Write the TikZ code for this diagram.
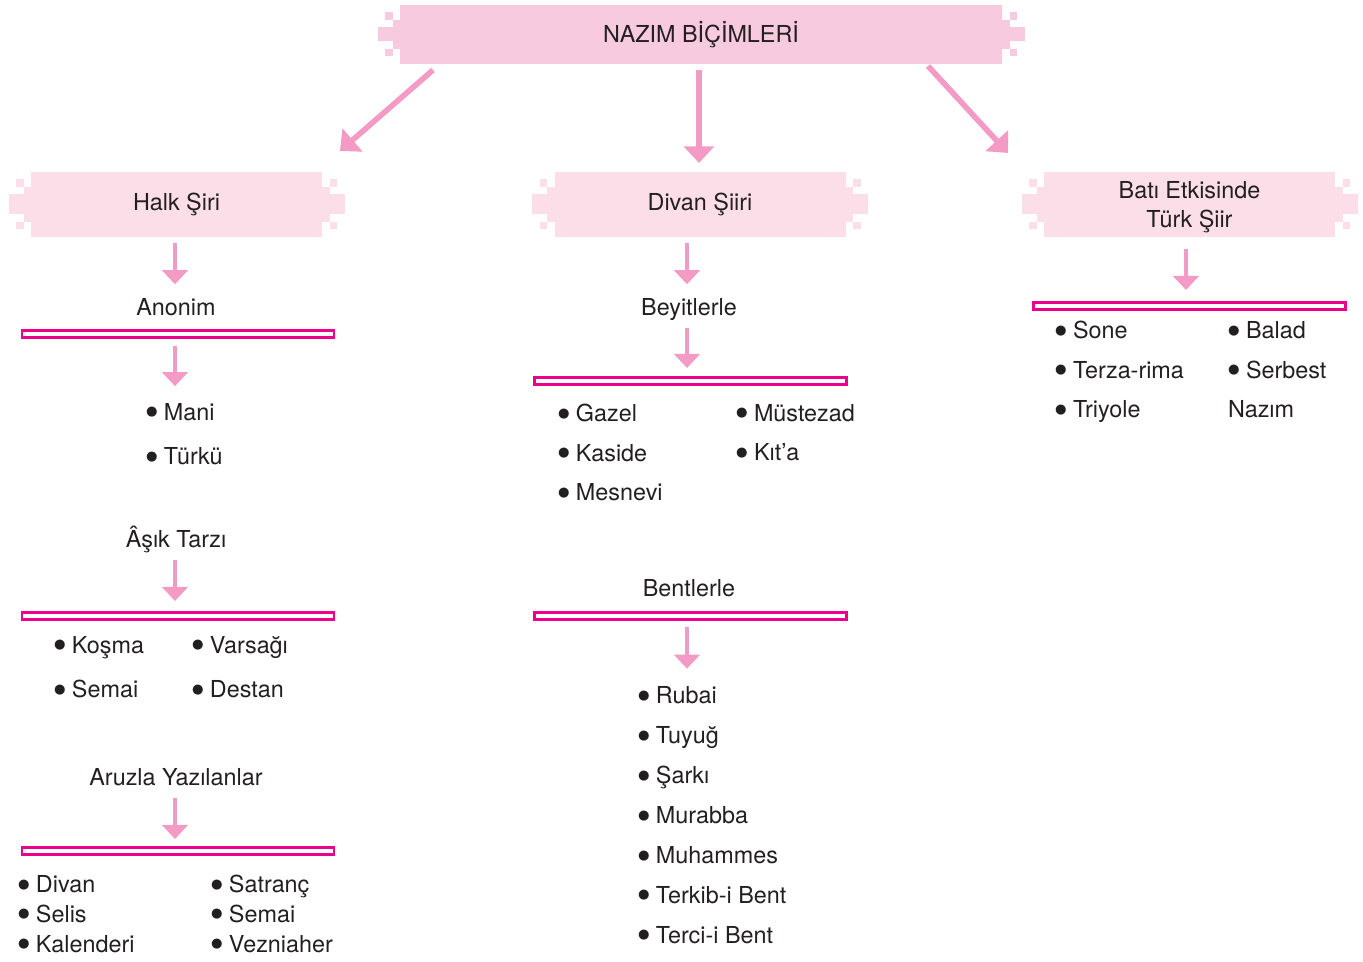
\documentclass[tikz,border=0pt]{standalone}
\usepackage{fontspec}
\setmainfont{TeX Gyre Heros}
\newfontfamily\dotfont{DejaVu Sans}
\usetikzlibrary{arrows.meta,calc}
\definecolor{toppink}{RGB}{248,202,223}
\definecolor{boxpink}{RGB}{252,222,233}
\definecolor{arrowpink}{RGB}{243,155,196}
\definecolor{barmagenta}{RGB}{236,0,140}
\definecolor{textdark}{RGB}{35,31,32}
\newlength\unitpx
\setlength\unitpx{0.02cm}
\newcommand\bul{\raisebox{2.4pt}{\dotfont\fontsize{7.5}{9}\selectfont ●}\ }
\tikzset{
  topbox/.style={fill=toppink, minimum width=602\unitpx, minimum height=59\unitpx, inner sep=0pt, outer sep=0pt},
  catbox/.style={fill=boxpink, minimum width=291\unitpx, minimum height=65\unitpx, inner sep=0pt, outer sep=0pt, align=center},
  heading/.style={anchor=base, inner sep=0pt, outer sep=0pt, text height=9.5pt, text depth=3pt},
  divider/.style={draw=barmagenta, fill=white, line width=1.7pt, minimum width=312\unitpx, minimum height=7\unitpx, inner sep=0pt, outer sep=0pt},
  items/.style={anchor=base west, align=left, inner sep=0pt, outer sep=0pt},
  bigarrow/.style={draw=arrowpink, line width=3.2pt, -{Triangle[length=9.5pt,width=17pt]}},
  smallarrow/.style={draw=arrowpink, line width=2.8pt, -{Triangle[length=8pt,width=14.5pt]}}
}
% stepped ends of a box: #1 node, #2 colour
\newcommand\ribbon[2]{%
  \fill[#2] ($(#1.north west)+(-7.5,15)$) rectangle ($(#1.south west)+(1,-15)$);
  \fill[#2] ($(#1.north west)+(-22.5,22.5)$) rectangle ($(#1.south west)+(-7,-22.5)$);
  \fill[#2] ($(#1.north west)+(-15,7.5)$) rectangle ($(#1.north west)+(-7.5,15)$);
  \fill[#2] ($(#1.south west)+(-15,-15)$) rectangle ($(#1.south west)+(-7.5,-7.5)$);
  \fill[#2] ($(#1.north east)+(7.5,15)$) rectangle ($(#1.south east)+(-1,-15)$);
  \fill[#2] ($(#1.north east)+(22.5,22.5)$) rectangle ($(#1.south east)+(7,-22.5)$);
  \fill[#2] ($(#1.north east)+(15,7.5)$) rectangle ($(#1.north east)+(7.5,15)$);
  \fill[#2] ($(#1.south east)+(15,-15)$) rectangle ($(#1.south east)+(7.5,-7.5)$);
}
\begin{document}
\begin{tikzpicture}[x=0.02cm, y=-0.02cm, font=\fontsize{13.3}{16}\selectfont, text=textdark]
\useasboundingbox (0,0) rectangle (1363,962);

\node[topbox] (top) at (701,34.5) {NAZIM BİÇİMLERİ};
\node[catbox] (halk) at (176.5,204.5) {Halk Şiri};
\node[catbox] (divan) at (700,204.5) {Divan Şiiri};
\node[catbox] (bati) at (1189.5,204.5) {\rule{0pt}{13pt}Batı Etkisinde\\[0.5pt]Türk Şiir};
\ribbon{top}{toppink}
\ribbon{halk}{boxpink}
\ribbon{divan}{boxpink}
\ribbon{bati}{boxpink}

\node[heading] (anonim) at (176,316) {Anonim};
\node[heading] (asik) at (176,548) {Âşık Tarzı};
\node[heading] (aruz) at (176,785) {Aruzla Yazılanlar};
\node[heading] (beyit) at (689,316) {Beyitlerle};
\node[heading] (bent) at (689,597) {Bentlerle};

\node[divider] (anonimbar) at (178,334) {};
\node[divider] (asikbar) at (178,616) {};
\node[divider] (aruzbar) at (178,851) {};
\node[divider] (beyitbar) at (690.5,381) {};
\node[divider] (bentbar) at (690.5,616) {};
\node[divider] (batibar) at (1189,306) {};

% lists sit on the baseline of their last line
\node[items] (mani) at (146,465) {\bul Mani\\[9.5pt]\bul Türkü};
\node[items] (kosma) at (54,698) {\bul Koşma\\[9.5pt]\bul Semai};
\node[items] (varsagi) at (192,698) {\bul Varsağı\\[9.5pt]\bul Destan};
\node[items] (divanlist) at (18,952) {\bul Divan\\[1pt]\bul Selis\\[1pt]\bul Kalenderi};
\node[items] (satranc) at (211,952) {\bul Satranç\\[1pt]\bul Semai\\[1pt]\bul Vezniaher};
\node[items] (gazel) at (558,501) {\bul Gazel\\[6.7pt]\bul Kaside\\[6.7pt]\bul Mesnevi};
\node[items] (mustezad) at (736,461) {\bul Müstezad\\[6.7pt]\bul Kıt’a};
\node[items] (rubai) at (638,943) {\bul Rubai\\[6.7pt]\bul Tuyuğ\\[6.7pt]\bul Şarkı\\[6.7pt]\bul Murabba\\[6.7pt]\bul Muhammes\\[6.7pt]\bul Terkib-i Bent\\[6.7pt]\bul Terci-i Bent};
\node[items] (sone) at (1055,418) {\bul Sone\\[6.7pt]\bul Terza-rima\\[6.7pt]\bul Triyole};
\node[items] (balad) at (1228,418) {\bul Balad\\[6.7pt]\bul Serbest\\[6.7pt]Nazım};

\draw[bigarrow] ($(top.south west)+(33,6)$) -- ($(halk.north east)+(18,-21)$);
\draw[bigarrow] ($(divan.north |- top.south)+(-1,6)$) -- ($(divan.north)+(-1,-9)$);
\draw[bigarrow] ($(top.south east)+(-74,2)$) -- ($(bati.north west)+(-36,-19)$);

\draw[smallarrow] ($(anonim.north |- halk.south)+(-1,6)$) -- ($(anonim.north)+(-1,-15)$);
\draw[smallarrow] ($(anonim.north |- anonimbar.south)+(-1,8.5)$) -- ($(anonim.north |- mani.north)+(-1,-17)$);
\draw[smallarrow] ($(asik.south)+(-1,6.7)$) -- ($(asik.south |- asikbar.north)+(-1,-11.5)$);
\draw[smallarrow] ($(aruz.south)+(-1,7.7)$) -- ($(aruz.south |- aruzbar.north)+(-1,-8.5)$);

\draw[smallarrow] ($(beyit.north |- divan.south)+(-2,6)$) -- ($(beyit.north)+(-2,-15)$);
\draw[smallarrow] ($(beyit.south)+(-2,6.7)$) -- ($(beyit.south |- beyitbar.north)+(-2,-9.5)$);
\draw[smallarrow] ($(bent.south |- bentbar.south)+(-2,7.5)$) -- ($(bent.south |- rubai.north)+(-2,-18)$);

\draw[smallarrow] ($(bati.south)+(-3.5,12)$) -- ($(bati.south |- batibar.north)+(-3.5,-12.5)$);
\end{tikzpicture}
\end{document}
